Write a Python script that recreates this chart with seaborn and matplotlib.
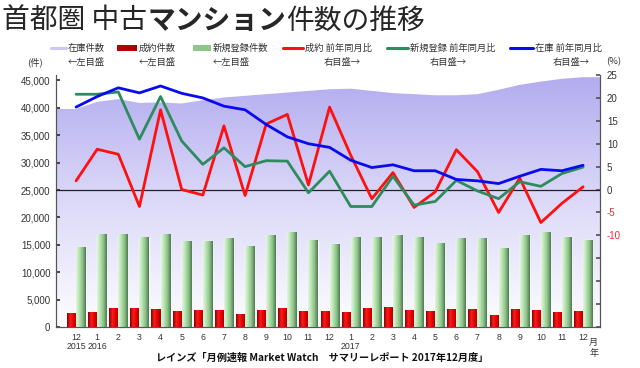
import numpy as np
import pandas as pd
import matplotlib.pyplot as plt
import matplotlib.colors as mcolors
from matplotlib.patches import Rectangle
from matplotlib.lines import Line2D
import seaborn as sns

# 2015年12月 ～ 2017年12月
months = ['12', '1', '2', '3', '4', '5', '6', '7', '8', '9', '10', '11',
          '12', '1', '2', '3', '4', '5', '6', '7', '8', '9', '10', '11', '12']
year_marks = {0: '2015', 1: '2016', 13: '2017'}

stock = [39800, 41100, 41600, 40900, 41000, 40800, 41400, 41900, 42200, 42500, 42800, 43100,
         43400, 43500, 43100, 42700, 42500, 42300, 42300, 42500, 43300, 44200, 44800, 45300, 45600]
contracts = [2450, 2600, 3430, 3430, 3140, 2890, 3010, 3010, 2230, 3010, 3380, 2880,
             2880, 2700, 3380, 3560, 3010, 2880, 3140, 3140, 2160, 3140, 3010, 2700, 2880]
new_listings = [14450, 16820, 16820, 16280, 16820, 15600, 15660, 16200, 14690, 16700, 17250, 15730,
                15110, 16280, 16280, 16750, 16280, 15180, 16090, 16100, 14300, 16700, 17200, 16400, 15800]
contracts_yoy = [1.9, 8.8, 7.7, -3.7, 17.4, 0.0, -1.2, 13.9, -1.3, 14.3, 16.4, 1.0,
                 18.0, 7.5, -2.0, 3.7, -3.9, -0.5, 8.7, 3.9, -5.0, 2.5, -7.2, -3.0, 0.6]
listings_yoy = [20.8, 20.8, 21.3, 11.0, 20.3, 10.6, 5.5, 9.1, 5.0, 6.3, 6.2, -0.7,
                4.0, -3.7, -3.7, 2.9, -3.4, -2.6, 2.0, -0.3, -2.0, 1.7, 0.7, 3.5, 4.9]
stock_yoy = [18.0, 20.3, 22.2, 21.1, 22.6, 21.0, 20.0, 18.2, 17.4, 14.2, 11.5, 10.0,
             9.2, 6.4, 4.8, 5.4, 4.1, 4.1, 2.2, 1.9, 1.3, 2.9, 4.4, 4.1, 5.3]

sns.set_theme(style='white')
plt.rcParams['font.family'] = ['Liberation Sans', 'Noto Sans CJK JP', 'DejaVu Sans']
JP = ['Noto Sans CJK JP', 'DejaVu Sans']

RED = '#ff1010'
GREEN = '#2e8b5e'
BLUE = '#0a0af0'

idx = np.arange(len(months))
bars = pd.DataFrame({
    'idx': np.concatenate([idx, idx]),
    'count': contracts + new_listings,
    'kind': ['成約件数'] * len(idx) + ['新規登録件数'] * len(idx),
})
yoy = pd.DataFrame({
    'idx': np.concatenate([idx, idx, idx]),
    'pct': contracts_yoy + listings_yoy + stock_yoy,
    'kind': ['成約 前年同月比'] * len(idx) + ['新規登録 前年同月比'] * len(idx) + ['在庫 前年同月比'] * len(idx),
})

fig = plt.figure(figsize=(6.4, 3.68), dpi=100)
ax = fig.add_axes([0.0875, 0.1114, 0.85, 0.6848])
ax2 = ax.twinx()

XMIN, XMAX = -0.95, 24.8
YMAX = 46000

# 在庫件数: グラデーションの面
x_ext = np.concatenate([[XMIN], idx, [XMAX]])
s_ext = np.concatenate([[stock[0]], stock, [stock[-1]]])
poly = ax.fill_between(x_ext, s_ext, 0, color='none', lw=0)
area_cmap = mcolors.LinearSegmentedColormap.from_list('area', ['#fdfdff', '#dcd9f8', '#b2abef'])
grad = np.linspace(0, 1, 256).reshape(-1, 1)
img = ax.imshow(grad, extent=[XMIN, XMAX, 0, YMAX], origin='lower', aspect='auto',
                cmap=area_cmap, zorder=0)
img.set_clip_path(poly.get_paths()[0], transform=ax.transData)

# 棒グラフ
sns.barplot(data=bars, x='idx', y='count', hue='kind', hue_order=['成約件数', '新規登録件数'],
            palette=[RED, '#9ccf98'], width=0.86, gap=0, legend=False, ax=ax, zorder=2)

red_cmap = mcolors.LinearSegmentedColormap.from_list('r', ['#8a0000', '#ff1a1a', '#e00000', '#a00000'])
green_cmap = mcolors.LinearSegmentedColormap.from_list('g', ['#e4f6e0', '#b5e3ae', '#8cbf88', '#4c7a4e'])
hgrad = np.linspace(0, 1, 64).reshape(1, -1)
for p in list(ax.patches):
    if not isinstance(p, Rectangle) or p.get_height() <= 0:
        continue
    x0, y0, w, h = p.get_x(), p.get_y(), p.get_width(), p.get_height()
    cm = red_cmap if h < 8000 else green_cmap
    ax.imshow(hgrad, extent=[x0, x0 + w, y0, y0 + h], aspect='auto', cmap=cm, zorder=3)

# 前年同月比の折れ線
sns.lineplot(data=yoy, x='idx', y='pct', hue='kind',
             hue_order=['成約 前年同月比', '新規登録 前年同月比', '在庫 前年同月比'],
             palette=[RED, GREEN, BLUE], linewidth=2.0, legend=False, ax=ax2, zorder=5)
ax2.axhline(0, color='#222222', lw=0.9, zorder=4)

ax.set_xlim(XMIN, XMAX)
ax.set_ylim(0, YMAX)
ax2.set_ylim(-30, 25)

ax.set_yticks(np.arange(0, 45001, 5000))
ax.set_yticklabels([f'{v:,}' for v in range(0, 45001, 5000)])
ax2.set_yticks(np.arange(-30, 26, 5))
ax2.set_yticklabels([str(v) if v >= -10 else '' for v in range(-30, 26, 5)])

labels = [m + ('\n' + year_marks[i] if i in year_marks else '') for i, m in enumerate(months)]
ax.set_xticks(idx)
ax.set_xticklabels(labels, fontsize=6.3, color='#333333', linespacing=1.1)
ax.tick_params(axis='x', length=0, pad=4)
ax.tick_params(axis='y', direction='in', length=3, labelsize=7, colors='#333333', pad=4, left=True)
ax2.tick_params(axis='y', direction='in', length=3, labelsize=7, colors='#555555', pad=5, right=True)
for lab, v in zip(ax2.get_yticklabels(), range(-30, 26, 5)):
    lab.set_color('#e03030' if v < 0 else '#333333')
ax.set_xlabel('')
ax.set_ylabel('')
ax2.set_xlabel('')
ax2.set_ylabel('')

for a in (ax, ax2):
    a.spines['top'].set_visible(False)
    for s in ('left', 'right', 'bottom'):
        a.spines[s].set_color('#555555')
        a.spines[s].set_linewidth(0.8)
ax.grid(False)
ax2.grid(False)

ax.text(24.5, -0.045, '月\n年', transform=ax.get_xaxis_transform(), ha='center', va='top',
        fontsize=6.5, family=JP, color='#333333', linespacing=1.3)

# タイトル
W, H = 640, 368
t1 = fig.text(2 / W, 1 - 21 / H, '首都圏 中古', fontsize=20, family=JP, va='center', ha='left')
fig.canvas.draw()
r = fig.canvas.get_renderer()
bb = t1.get_window_extent(r)
t2 = fig.text(bb.x1 / W, 1 - 21 / H, 'マンション', fontsize=20, family=JP, fontweight='bold',
              va='center', ha='left')
bb = t2.get_window_extent(r)
fig.text(bb.x1 / W, 1 - 21 / H, '件数の推移', fontsize=20, family=JP, va='center', ha='left')

# 凡例
row1, row2 = 1 - 48 / H, 1 - 62 / H
leg_items = [
    (51, 66, 'line', '#cbc8f4', '在庫件数', 68, '←左目盛', 68),
    (117, 137, 'bar', '#b00000', '成約件数', 139, '←左目盛', 139),
    (193, 211, 'bar', '#8fc58a', '新規登録件数', 213, '←左目盛', 213),
    (283, 303, 'line', RED, '成約 前年同月比', 305, '右目盛→', 324),
    (387, 408, 'line', GREEN, '新規登録 前年同月比', 410, '右目盛→', 430),
    (510, 533, 'line', BLUE, '在庫 前年同月比', 535, '右目盛→', 553),
]
for x0, x1, kind, col, name, tx, sub, sx in leg_items:
    if kind == 'line':
        fig.add_artist(Line2D([x0 / W, x1 / W], [row1, row1], color=col, lw=2.2))
    else:
        fig.add_artist(Rectangle((x0 / W, row1 - 3 / H), (x1 - x0) / W, 6 / H,
                                 color=col, lw=0))
    fig.text(tx / W, row1, name, fontsize=6.7, family=JP, va='center', ha='left', color='#333333')
    fig.text(sx / W, row2, sub, fontsize=6.7, family=JP, va='center', ha='left', color='#333333')
fig.text(27 / W, row2, '(件)', fontsize=6.7, family=JP, va='center', ha='left', color='#333333')
fig.text(606 / W, row2, '(%)', fontsize=6.7, family=JP, va='center', ha='left', color='#333333')

fig.text(322 / W, 1 - 358 / H, 'レインズ「月例速報 Market Watch　サマリーレポート 2017年12月度」',
         fontsize=7.3, family=JP, fontweight='bold', va='center', ha='center', color='#111111')

fig.savefig('out.png', dpi=100)
